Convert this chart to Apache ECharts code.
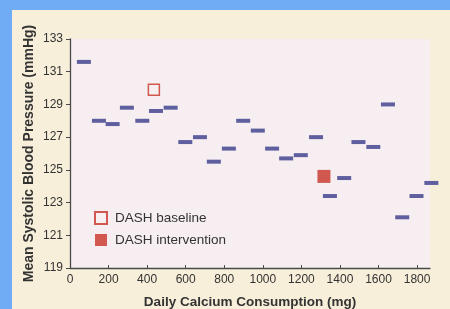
<!DOCTYPE html>
<html>
<head>
<meta charset="utf-8">
<script src="https://cdn.jsdelivr.net/npm/echarts@6/dist/echarts.min.js"></script>
<style>
html,body{margin:0;padding:0;background:#70acf5;}
#c{width:450px;height:309px;}
</style>
</head>
<body>
<div id="c"></div>
<script>
// Data
var calcium = [72,150,221,295,375,446,522,598,674,746,824,898,974,1048,1121,1197,1276,1348,1422,1496,1573,1649,1723,1797,1874];
var bp = [131.6,128.0,127.8,128.8,128.0,128.6,128.8,126.7,127.0,125.5,126.3,128.0,127.4,126.3,125.7,125.9,127.0,123.4,124.5,126.7,126.4,129.0,122.1,123.4,124.2];
var baselineX = [435];
var baselineY = [129.9];
var interventionX = [1317];
var interventionY = [124.6];
var xTicks = [0,200,400,600,800,1000,1200,1400,1600,1800];
var yTicks = [119,121,123,125,127,129,131,133];

function pairs(xs, ys){ return xs.map(function(x,i){ return [x, ys[i]]; }); }

var font = 'Liberation Sans, Arial, Helvetica, sans-serif';
var axisColor = '#4a4a4a';
var chart = echarts.init(document.getElementById('c'), null, {renderer:'canvas'});
chart.setOption({
  animation: false,
  backgroundColor: '#70acf5',
  graphic: [{
    type: 'rect', z: -10, silent: true,
    shape: {x: 12, y: 10, width: 440, height: 300},
    style: {fill: '#f7efd9'}
  }],
  grid: {left: 70, right: 20, top: 39, bottom: 41, show: true, backgroundColor: '#f6eef0', borderWidth: 0,
    containLabel: false, outerBoundsMode: 'none'},
  legend: {
    orient: 'vertical', left: 89, top: 206, itemWidth: 12, itemHeight: 12, itemGap: 8,
    icon: 'rect',
    data: ['DASH baseline', 'DASH intervention'],
    textStyle: {fontFamily: font, fontSize: 13.5, color: '#333', padding: [0,0,0,3]}
  },
  xAxis: {
    type: 'value', min: 0, max: 1867,
    name: 'Daily Calcium Consumption (mg)', nameLocation: 'middle', nameGap: 27, nameMoveOverlap: false,
    nameTextStyle: {fontFamily: font, fontSize: 13.5, fontWeight: 'bold', color: '#333'},
    splitLine: {show: false},
    axisLine: {show: true, lineStyle: {color: axisColor, width: 1.3}},
    axisTick: {show: true, inside: true, length: 3, customValues: xTicks, lineStyle: {color: axisColor}},
    axisLabel: {customValues: xTicks, margin: 6, fontFamily: font, fontSize: 12, color: '#333',
      formatter: function(v){ return String(v); }}
  },
  yAxis: {
    type: 'value', min: 119, max: 133,
    name: 'Mean Systolic Blood Pressure (mmHg)', nameLocation: 'middle', nameGap: 34, nameMoveOverlap: false,
    nameTextStyle: {fontFamily: font, fontSize: 14, fontWeight: 'bold', color: '#333'},
    splitLine: {show: false},
    axisLine: {show: true, lineStyle: {color: axisColor, width: 1.3}},
    axisTick: {show: true, length: 4, customValues: yTicks, lineStyle: {color: axisColor}},
    axisLabel: {customValues: yTicks, margin: 7, fontFamily: font, fontSize: 12, color: '#333',
      formatter: function(v){ return String(v); }}
  },
  series: [
    {
      name: 'strata', type: 'scatter', clip: false,
      symbol: 'rect', symbolSize: [14, 4],
      itemStyle: {color: '#5f5f9f', opacity: 1},
      data: pairs(calcium, bp)
    },
    {
      name: 'DASH baseline', type: 'scatter', clip: false,
      symbol: 'rect', symbolSize: 11,
      itemStyle: {color: '#f8f0f0', borderColor: '#d0584e', borderWidth: 1.5, opacity: 1},
      data: pairs(baselineX, baselineY)
    },
    {
      name: 'DASH intervention', type: 'scatter', clip: false,
      symbol: 'rect', symbolSize: 13,
      itemStyle: {color: '#d0584e', opacity: 1},
      data: pairs(interventionX, interventionY)
    }
  ]
});
</script>
</body>
</html>
